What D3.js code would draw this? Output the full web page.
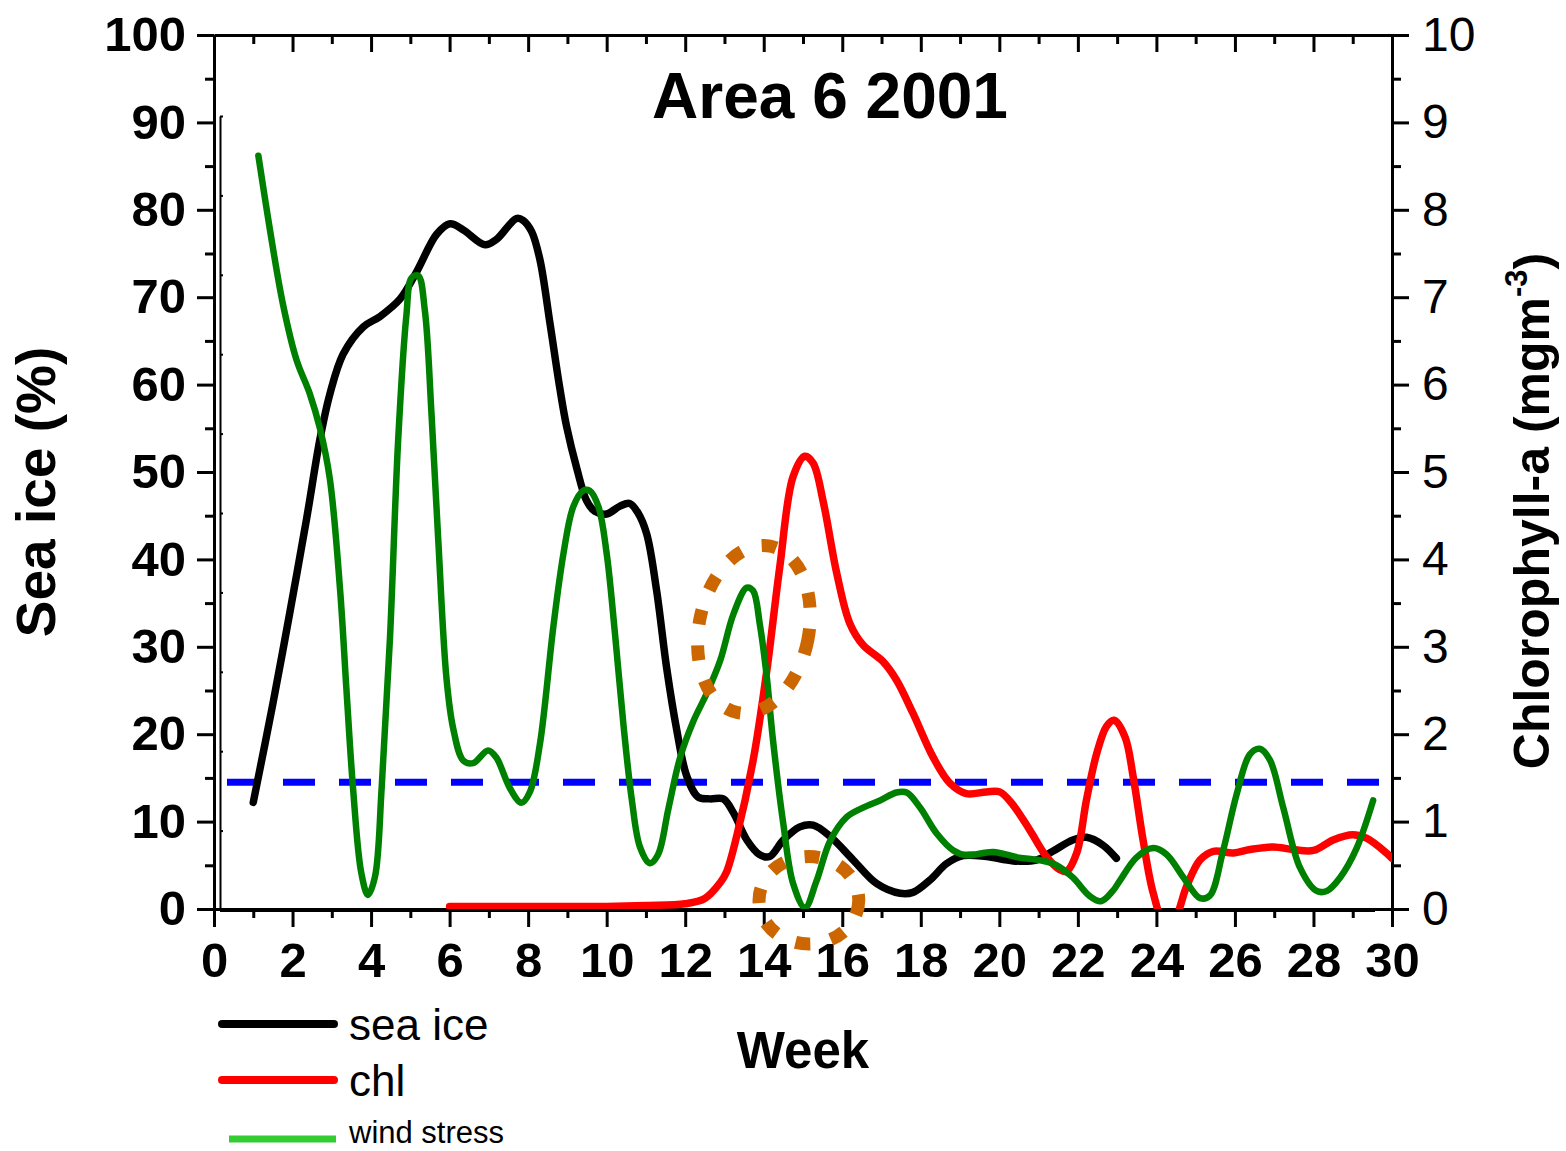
<!DOCTYPE html>
<html>
<head>
<meta charset="utf-8">
<script src="https://cdn.jsdelivr.net/npm/d3@7"></script>
<style>
  html, body { margin: 0; padding: 0; background: #fff; }
  svg { display: block; }
  text { font-family: "Liberation Sans", Arial, Helvetica, sans-serif; }
</style>
</head>
<body>
<svg id="chart" width="1566" height="1151"></svg>
<script>
// ---------------- DATA ----------------
const title = "Area 6 2001";
const xTickLabels = [0,2,4,6,8,10,12,14,16,18,20,22,24,26,28,30];
const leftTickLabels = [0,10,20,30,40,50,60,70,80,90,100];
const rightTickLabels = [0,1,2,3,4,5,6,7,8,9,10];
const seriesNames = ["sea ice", "chl", "wind stress"];

// Sea ice (%) vs week
const seaIceWeek = [1.0,1.5,1.93,2.36,2.7,2.95,3.29,3.8,4.23,4.74,5.16,5.67,6.01,6.35,6.9,7.19,7.7,7.87,8.09,8.3,8.56,8.81,8.98,9.24,9.49,9.7,10.0,10.34,10.59,10.8,11.02,11.27,11.53,11.78,12.04,12.33,12.63,12.97,13.23,13.57,13.9,14.15,14.5,14.92,15.26,15.69,16.28,16.88,17.47,17.8,18.23,18.66,19.08,19.67,20.35,20.94,21.36,21.87,22.22,22.64,22.98];
const seaIce     = [12.2,23.5,33.9,44.7,53.8,58.9,63.5,66.6,67.8,69.8,72.9,77.2,78.4,77.7,76.0,76.6,79.0,78.8,77.5,74.3,66.9,59.5,55.2,50.4,46.7,45.5,45.2,46.1,46.4,45.3,42.9,36.5,27.5,20.6,15.2,12.8,12.6,12.6,11.0,7.9,6.2,6.0,7.9,9.4,9.6,8.3,5.6,2.9,1.8,1.9,3.3,5.2,6.1,6.0,5.5,5.6,6.6,7.9,8.2,7.3,5.8];

// Chlorophyll-a (mg m-3) vs week
const chlWeek = [6.0,7,8,9,10,11,12,12.5,12.89,13.05,13.31,13.73,14.07,14.41,14.75,15.05,15.26,15.52,15.86,16.19,16.53,17.04,17.38,17.8,18.31,18.74,19.16,19.67,20.01,20.35,20.78,21.2,21.54,21.71,21.97,22.22,22.48,22.73,22.92,23.2,23.41,23.66,23.92,24.2,24.45,24.77,25.11,25.45,25.96,26.38,26.98,27.49,28.0,28.5,29.0,29.35,29.86,30];
const chl     = [0.03,0.03,0.03,0.03,0.03,0.04,0.06,0.12,0.3,0.42,0.83,1.70,2.70,3.92,4.95,5.18,5.10,4.65,3.84,3.27,3.02,2.83,2.62,2.24,1.74,1.44,1.32,1.34,1.34,1.19,0.90,0.60,0.45,0.43,0.64,1.25,1.78,2.09,2.16,1.97,1.51,0.79,0.18,-0.15,-0.12,0.26,0.56,0.66,0.64,0.68,0.71,0.68,0.67,0.79,0.85,0.81,0.64,0.58];

// Wind stress (unlabelled third axis, 0-10) vs week
const windWeek = [1.13,1.43,1.76,2.10,2.44,2.70,2.95,3.21,3.37,3.54,3.75,3.92,4.10,4.27,4.48,4.69,4.90,5.03,5.20,5.37,5.54,5.71,5.92,6.09,6.35,6.60,6.98,7.19,7.53,7.83,8.04,8.30,8.64,8.90,9.15,9.40,9.57,9.79,10.0,10.21,10.43,10.64,10.85,11.1,11.31,11.57,11.87,12.21,12.55,12.89,13.23,13.57,13.73,13.9,14.07,14.24,14.5,14.75,15.05,15.34,15.69,16.11,16.53,16.96,17.38,17.64,17.98,18.41,18.83,19.16,19.84,20.5,21.0,21.43,21.87,22.29,22.59,22.89,23.07,23.49,23.92,24.26,24.69,25.11,25.36,25.7,26.04,26.38,26.63,26.89,27.23,27.66,28.08,28.34,28.68,29.1,29.52];
const wind     = [9.50,8.55,7.62,6.93,6.50,6.06,5.43,4.04,2.80,1.54,0.47,0.19,0.42,1.54,3.41,5.92,7.49,7.96,7.99,7.55,6.24,4.67,2.92,2.29,1.88,1.85,2.01,1.92,1.54,1.35,1.48,2.09,3.56,4.49,5.08,5.28,5.28,5.08,4.49,3.49,2.32,1.39,0.79,0.59,0.70,1.27,1.92,2.38,2.73,3.14,3.73,4.06,4.02,3.60,2.97,2.12,1.08,0.33,0.03,0.36,0.87,1.17,1.29,1.38,1.48,1.48,1.29,0.96,0.75,0.69,0.73,0.66,0.63,0.57,0.41,0.18,0.11,0.24,0.37,0.66,0.78,0.70,0.41,0.15,0.18,0.75,1.45,1.96,2.03,1.89,1.29,0.53,0.24,0.24,0.41,0.78,1.38];

// Sea-ice threshold (dashed line, %)
const threshold = 14.5;

// Highlight ellipses (week, value on chl axis, radii in weeks / chl units, rotation)
const highlightCenters = [[13.75, 3.20], [15.15, 0.10]];
const highlightRadii   = [[1.40, 0.97], [1.27, 0.50]];
const highlightRotation = [11, 0];

// ---------------- LAYOUT ----------------
const svg = d3.select("#chart");
const L = 214, R = 1392, T = 35, B = 909;

const x = d3.scaleLinear().domain([0, 30]).range([L, R]);
const yIce = d3.scaleLinear().domain([0, 100]).range([B, T]);
const yChl = d3.scaleLinear().domain([0, 10]).range([B, T]);
const yWind = d3.scaleLinear().domain([0, 10]).range([910, 116]);

const defs = svg.append("defs");
defs.append("clipPath").attr("id", "plotclip")
  .append("rect").attr("x", L).attr("y", T - 20).attr("width", R - L).attr("height", B - T + 20);

function styleAxis(g, w) {
  g.selectAll("path.domain").attr("stroke", "#000").attr("stroke-width", w);
  g.selectAll(".tick line").attr("stroke", "#000").attr("stroke-width", w);
}

// Wind-stress hidden axis (left thin line)
const gw = svg.append("g").attr("transform", `translate(220,0)`)
  .call(d3.axisRight(yWind).tickValues(d3.range(0, 11, 1)).tickSize(3).tickSizeOuter(0).tickFormat(""));
styleAxis(gw, 2);
svg.append("line").attr("x1", 220).attr("x2", 1375).attr("y1", 911).attr("y2", 911)
  .attr("stroke", "#000").attr("stroke-width", 2);

// Left axis
const gl = svg.append("g").attr("transform", `translate(${L},0)`)
  .call(d3.axisLeft(yIce).tickValues(leftTickLabels).tickSize(17).tickSizeOuter(0).tickPadding(11));
styleAxis(gl, 3);
gl.selectAll(".tick text").attr("font-size", 49).attr("font-weight", "bold").attr("fill", "#000")
  .style("font-family", '"Liberation Sans", Arial, sans-serif');
svg.append("g").attr("transform", `translate(${L},0)`)
  .call(d3.axisLeft(yIce).tickValues(d3.range(5, 100, 10)).tickSize(9).tickSizeOuter(0).tickFormat(""))
  .call(g => { g.select(".domain").remove(); styleAxis(g, 3); });

// Right axis
const gr = svg.append("g").attr("transform", `translate(${R},0)`)
  .call(d3.axisRight(yChl).tickValues(rightTickLabels).tickSize(17).tickSizeOuter(0).tickPadding(13));
styleAxis(gr, 3);
gr.selectAll(".tick text").attr("font-size", 48).attr("fill", "#000")
  .style("font-family", '"Liberation Sans", Arial, sans-serif');
svg.append("g").attr("transform", `translate(${R},0)`)
  .call(d3.axisRight(yChl).tickValues(d3.range(0.5, 10, 1)).tickSize(9).tickSizeOuter(0).tickFormat(""))
  .call(g => { g.select(".domain").remove(); styleAxis(g, 3); });

// Bottom axis
const gb = svg.append("g").attr("transform", `translate(0,${B})`)
  .call(d3.axisBottom(x).tickValues(xTickLabels).tickSize(18).tickSizeOuter(0).tickPadding(15));
styleAxis(gb, 3);
gb.selectAll(".tick text").attr("font-size", 49).attr("font-weight", "bold").attr("fill", "#000")
  .style("font-family", '"Liberation Sans", Arial, sans-serif');
svg.append("g").attr("transform", `translate(0,${B})`)
  .call(d3.axisBottom(x).tickValues(d3.range(1, 30, 2)).tickSize(9).tickSizeOuter(0).tickFormat(""))
  .call(g => { g.select(".domain").remove(); styleAxis(g, 3); });

// Top axis (ticks inward)
const gt = svg.append("g").attr("transform", `translate(0,${T})`)
  .call(d3.axisTop(x).tickValues(xTickLabels).tickSize(-17).tickSizeOuter(0).tickFormat(""));
styleAxis(gt, 3);
svg.append("g").attr("transform", `translate(0,${T})`)
  .call(d3.axisTop(x).tickValues(d3.range(1, 30, 2)).tickSize(-9).tickSizeOuter(0).tickFormat(""))
  .call(g => { g.select(".domain").remove(); styleAxis(g, 3); });

// ---------------- SERIES ----------------
const plot = svg.append("g").attr("clip-path", "url(#plotclip)");

// threshold dashed line
plot.append("line")
  .attr("x1", 227).attr("x2", 1379)
  .attr("y1", yIce(threshold)).attr("y2", yIce(threshold))
  .attr("stroke", "#0000ff").attr("stroke-width", 7).attr("stroke-dasharray", "32,24");

const curve = d3.curveCatmullRom.alpha(0.5);
function drawSeries(weeks, vals, yScale, color, w) {
  const pts = weeks.map((wk, i) => [wk, vals[i]]);
  plot.append("path")
    .datum(pts)
    .attr("fill", "none").attr("stroke", color).attr("stroke-width", w)
    .attr("stroke-linejoin", "round").attr("stroke-linecap", "round")
    .attr("d", d3.line().x(d => x(d[0])).y(d => yScale(d[1])).curve(curve));
}
drawSeries(seaIceWeek, seaIce, yIce, "#000000", 7.5);
drawSeries(chlWeek, chl, yChl, "#ff0000", 7.5);
drawSeries(windWeek, wind, yWind, "#008000", 6.5);

// Highlight ellipses
highlightCenters.forEach((c, i) => {
  const cx = x(c[0]), cy = yChl(c[1]);
  const rx = x(highlightRadii[i][0]) - x(0);
  const ry = yChl(0) - yChl(highlightRadii[i][1]);
  svg.append("ellipse")
    .attr("cx", cx).attr("cy", cy).attr("rx", rx).attr("ry", ry)
    .attr("transform", `rotate(${highlightRotation[i]},${cx},${cy})`)
    .attr("fill", "none").attr("stroke", "#cc6600").attr("stroke-width", 13)
    .attr("stroke-dasharray", "15,21");
});

// ---------------- TEXT ----------------
svg.append("text").attr("x", 830).attr("y", 118).attr("text-anchor", "middle")
  .attr("font-size", 64).attr("font-weight", "bold").text(title);

svg.append("text").attr("transform", "translate(55,492) rotate(-90)")
  .attr("text-anchor", "middle").attr("font-size", 55).attr("font-weight", "bold")
  .text("Sea ice (%)");

const rl = svg.append("text").attr("transform", "translate(1549,511) rotate(-90)")
  .attr("text-anchor", "middle").attr("font-size", 50).attr("font-weight", "bold");
rl.append("tspan").text("Chlorophyll-a (mgm");
rl.append("tspan").attr("font-size", 31).attr("dy", -22).text("-3");
rl.append("tspan").attr("dy", 22).text(")");

svg.append("text").attr("x", 803).attr("y", 1068).attr("text-anchor", "middle")
  .attr("font-size", 51).attr("font-weight", "bold").text("Week");

// ---------------- LEGEND ----------------
const legendItems = [
  {name: seriesNames[0], color: "#000000", x1: 218, x2: 338, y: 1024, w: 8, cap: "round", fs: 44, ty: 1040},
  {name: seriesNames[1], color: "#ff0000", x1: 218, x2: 338, y: 1080, w: 8, cap: "round", fs: 44, ty: 1096},
  {name: seriesNames[2], color: "#33cc33", x1: 229, x2: 336, y: 1139, w: 7, cap: "butt", fs: 31, ty: 1143}
];
legendItems.forEach(d => {
  svg.append("line").attr("x1", d.x1 + (d.cap === "round" ? 4 : 0)).attr("x2", d.x2 - (d.cap === "round" ? 4 : 0))
    .attr("y1", d.y).attr("y2", d.y)
    .attr("stroke", d.color).attr("stroke-width", d.w).attr("stroke-linecap", d.cap);
  svg.append("text").attr("x", 349).attr("y", d.ty).attr("font-size", d.fs).text(d.name);
});
</script>
</body>
</html>
